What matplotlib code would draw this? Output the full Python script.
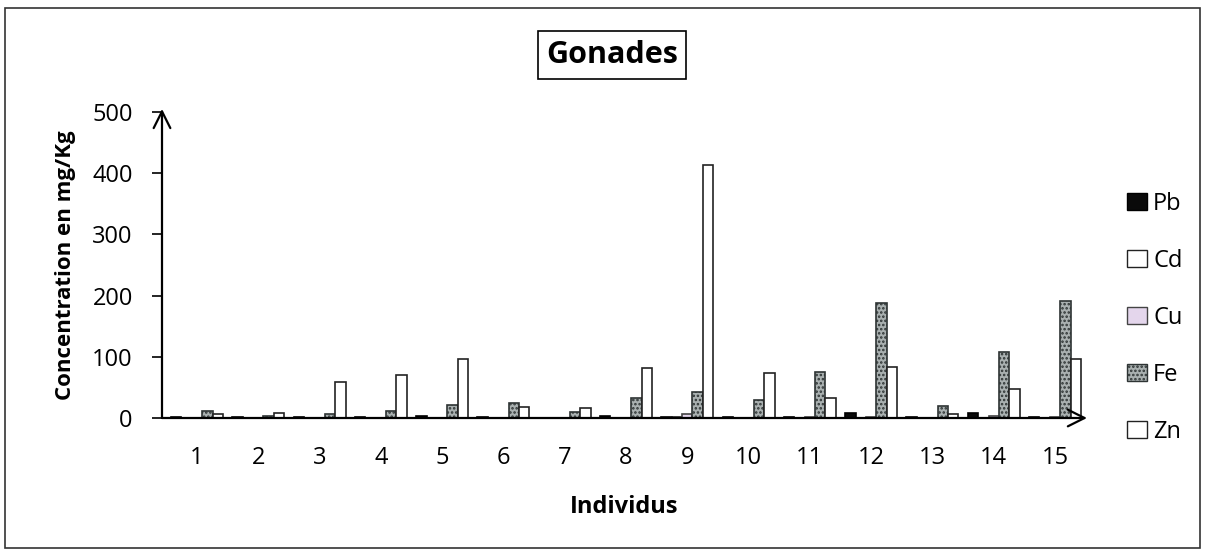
import matplotlib
matplotlib.use("Agg")
import matplotlib.pyplot as plt
import numpy as np
from matplotlib.patches import Rectangle, Patch

plt.rcParams['font.family'] = ['Open Sans', 'DejaVu Sans']
plt.rcParams['hatch.linewidth'] = 1.2

individus = [str(i) for i in range(1, 16)]
series = ['Pb', 'Cd', 'Cu', 'Fe', 'Zn']
Pb = [1, 1, 2, 2, 3, 1, 0, 4, 1, 1, 1, 8, 1, 8, 1]
Cd = [0.5, 0.3, 0.3, 0.3, 0.3, 0.3, 0.3, 0.3, 1, 0.3, 0.5, 0.5, 0.3, 0.5, 0.5]
Cu = [0.5, 0.3, 0.3, 0.3, 0.3, 0.3, 0.3, 0.3, 6, 0.5, 1, 2, 0.5, 3, 1]
Fe = [11, 3, 7, 12, 21, 25, 9, 33, 42, 29, 75, 188, 19, 108, 191]
Zn = [7, 8, 59, 70, 96, 18, 16, 81, 413, 73, 33, 84, 6, 47, 96]
values = [Pb, Cd, Cu, Fe, Zn]

styles = {
    'Pb': dict(facecolor='#0a0a0a', edgecolor='#000000'),
    'Cd': dict(facecolor='white', edgecolor='#222222'),
    'Cu': dict(facecolor='#e4d6ec', edgecolor='#444444'),
    'Fe': dict(facecolor='#a9b0b0', edgecolor='#2e3434', hatch='....'),
    'Zn': dict(facecolor='white', edgecolor='#222222'),
}

fig = plt.figure(figsize=(12.06, 5.52), dpi=100)
left_px, right_px = 162, 1087
ax = fig.add_axes([left_px/1206, 1-418/552, (right_px-left_px)/1206, 306/552])

x = np.arange(1, 16)
w = 0.17
for k, (name, vals) in enumerate(zip(series, values)):
    ax.bar(x + (k - 2) * w, vals, width=w, linewidth=1.2, label=name, **styles[name])

sp = 61.29
ax.set_xlim(1 - (197-left_px)/sp, 15 + (right_px-1055)/sp)
ax.set_ylim(0, 500)
ax.set_yticks([0, 100, 200, 300, 400, 500])
ax.set_xticks(x)
ax.set_xticklabels(individus)
ax.tick_params(axis='y', labelsize=17, length=7, width=1.2, direction='out', pad=14)
ax.tick_params(axis='x', labelsize=17, length=0, pad=20)
for s in ['top', 'right', 'left', 'bottom']:
    ax.spines[s].set_visible(False)

# axis arrows
ax.annotate('', xy=(0, 1.01), xytext=(0, 0), xycoords='axes fraction',
            arrowprops=dict(arrowstyle='->', lw=1.6, color='black',
                            mutation_scale=30, shrinkA=0, shrinkB=0), annotation_clip=False)
ax.annotate('', xy=(1.0, 0), xytext=(0, 0), xycoords='axes fraction',
            arrowprops=dict(arrowstyle='->', lw=1.6, color='black',
                            mutation_scale=30, shrinkA=0, shrinkB=0), annotation_clip=False)

ax.set_xlabel('Individus', fontsize=17, fontweight='bold', labelpad=18)
ax.set_ylabel('Concentration en mg/Kg', fontsize=16, fontweight='bold', labelpad=12)

fig.text(612/1206, 1-55/552, 'Gonades', ha='center', va='center', fontsize=22,
         fontweight='bold',
         bbox=dict(boxstyle='square,pad=0.28', facecolor='white', edgecolor='black', linewidth=1.2))

handles = [Patch(linewidth=1.0, **styles[n]) for n in series]
fig.legend(handles, series, loc='center left', bbox_to_anchor=(1106/1206, 1-318/552),
           frameon=False, fontsize=17, handlelength=0.85, handleheight=0.72,
           handletextpad=0.25, labelspacing=1.4)

fig.patches.append(Rectangle((5/1206, 4/552), 1195/1206, 540/552, transform=fig.transFigure,
                             fill=False, edgecolor='#333333', linewidth=1.2))

fig.savefig('out.png', dpi=100)
